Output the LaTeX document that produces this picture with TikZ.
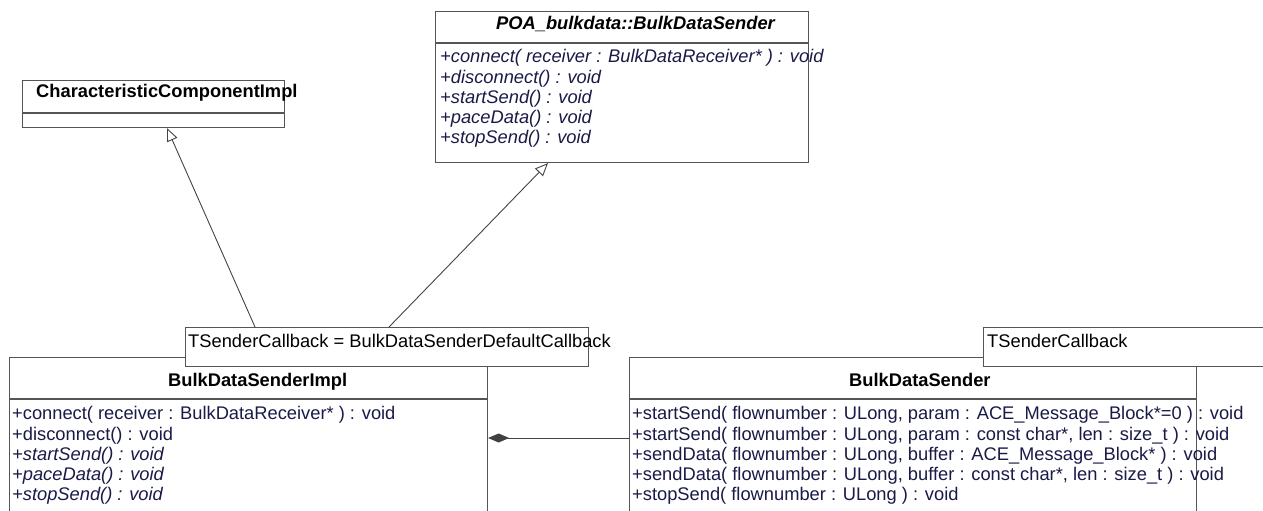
\documentclass[tikz,border=0pt]{standalone}
\usepackage{fontspec}
\setmainfont{Liberation Sans}
\usetikzlibrary{arrows.meta,calc}
\definecolor{edge}{HTML}{555555}
\definecolor{wire}{HTML}{444444}
\definecolor{ink}{HTML}{1A1A48}
\definecolor{knob}{HTML}{404040}
\tikzset{
  umlbox/.style={draw=edge, line width=1.1pt, fill=white, inner sep=0pt, anchor=north west},
  divider/.style={draw=edge, line width=1.1pt},
  clsname/.style={font=\fontsize{18.3}{20}\selectfont\bfseries, anchor=base west, inner sep=0pt, text=black},
  absname/.style={font=\fontsize{18.3}{20}\selectfont\bfseries\itshape, anchor=base west, inner sep=0pt, text=black},
  op/.style={font=\fontsize{18.3}{20}\selectfont, anchor=base west, inner sep=0pt, text=ink},
  absop/.style={font=\fontsize{18.3}{20}\selectfont\itshape, anchor=base west, inner sep=0pt, text=ink},
  tpltext/.style={font=\fontsize{18.3}{20}\selectfont, anchor=base west, inner sep=0pt, text=black},
  inherit/.style={draw=wire, line width=0.9pt, -{Triangle[open, length=13pt, width=11pt, fill=white]}},
  compose/.style={draw=wire, line width=0.9pt, -{Diamond[length=21pt, width=9pt, fill=knob, color=knob]}}
}
\begin{document}
\begin{tikzpicture}[x=1pt, y=-1pt]
\clip (0,0) rectangle (1263,511);
\fill[white] (0,0) rectangle (1263,511);

% CharacteristicComponentImpl
\node[umlbox, minimum width=262pt, minimum height=47pt] (cci) at (22,80) {};
\draw[divider] ([yshift=-33pt]cci.north west) -- ([yshift=-33pt]cci.north east);
\node[clsname] (cciname) at (36,97) {CharacteristicComponentImpl};

% POA_bulkdata::BulkDataSender
\node[umlbox, minimum width=373pt, minimum height=151pt] (poa) at (435,11) {};
\draw[divider] ([yshift=-32pt]poa.north west) -- ([yshift=-32pt]poa.north east);
\node[absname] (poaname) at (496,30) {POA\_bulkdata::BulkDataSender};
\node[absop] (poa1) at (440,63) {+connect( receiver : BulkDataReceiver* ) : void};
\node[absop] (poa2) at (440,83) {+disconnect() : void};
\node[absop] (poa3) at (440,103) {+startSend() : void};
\node[absop] (poa4) at (440,123) {+paceData() : void};
\node[absop] (poa5) at (440,143) {+stopSend() : void};

% BulkDataSenderImpl
\node[umlbox, minimum width=478pt, minimum height=180pt] (impl) at (9,357) {};
\draw[divider] ([yshift=-42pt]impl.north west) -- ([yshift=-42pt]impl.north east);
\node[clsname] (implname) at (168,386) {BulkDataSenderImpl};
\node[op] (impl1) at (12,419.5) {+connect( receiver : BulkDataReceiver* ) : void};
\node[op] (impl2) at (12,440) {+disconnect() : void};
\node[absop] (impl3) at (12,460) {+startSend() : void};
\node[absop] (impl4) at (12,480) {+paceData() : void};
\node[absop] (impl5) at (12,500) {+stopSend() : void};

% BulkDataSender
\node[umlbox, minimum width=567pt, minimum height=180pt] (snd) at (629,357) {};
\draw[divider] ([yshift=-42pt]snd.north west) -- ([yshift=-42pt]snd.north east);
\node[clsname] (sndname) at (849,386) {BulkDataSender};
\node[op] (snd1) at (632,419.5) {+startSend( flownumber : ULong, param : ACE\_Message\_Block*=0 ) : void};
\node[op] (snd2) at (632,440) {+startSend( flownumber : ULong, param : const char*, len : size\_t ) : void};
\node[op] (snd3) at (632,460) {+sendData( flownumber : ULong, buffer : ACE\_Message\_Block* ) : void};
\node[op] (snd4) at (632,480) {+sendData( flownumber : ULong, buffer : const char*, len : size\_t ) : void};
\node[op] (snd5) at (632,500) {+stopSend( flownumber : ULong ) : void};

% template parameter boxes
\node[umlbox, minimum width=403pt, minimum height=39pt] (tplimpl) at (185,327) {};
\node[tpltext] (tplimpltext) at (188,347) {TSenderCallback = BulkDataSenderDefaultCallback};
\node[umlbox, minimum width=300pt, minimum height=39pt] (tplsnd) at (983,327) {};
\node[tpltext] (tplsndtext) at (987,347) {TSenderCallback};

% generalizations
\coordinate (g1from) at ([xshift=70pt]tplimpl.north west);
\coordinate (g1to) at ([xshift=145pt]cci.south west);
\draw[inherit] (g1from) -- (g1to);
\coordinate (g2from) at ([xshift=204pt]tplimpl.north west);
\coordinate (g2to) at ([xshift=113pt]poa.south west);
\draw[inherit] (g2from) -- (g2to);

% composition
\coordinate (cfrom) at ([yshift=-81pt]snd.north west);
\coordinate (cto) at ([yshift=-81pt]impl.north east);
\draw[compose] (cfrom) -- (cto);
\end{tikzpicture}
\end{document}
